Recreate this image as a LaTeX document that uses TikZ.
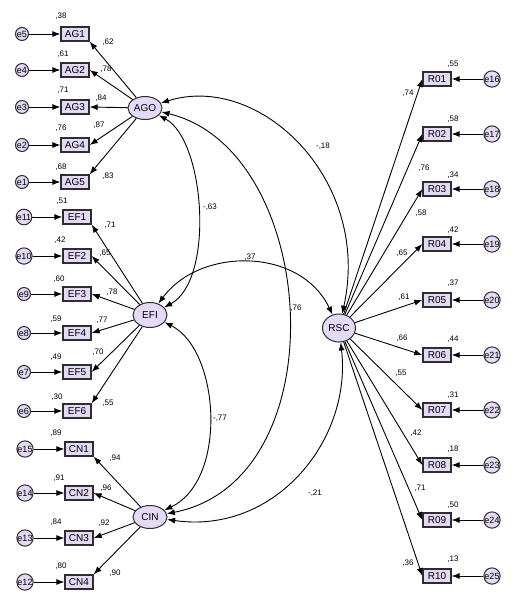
\documentclass[tikz,border=0pt]{standalone}
\usepackage{fontspec}
\setmainfont{Liberation Sans}
\usetikzlibrary{shapes.geometric,arrows.meta}
\definecolor{lav}{RGB}{228,218,245}
\definecolor{edgec}{RGB}{45,45,50}
\begin{document}
\begin{tikzpicture}[x=1pt,y=-1pt,
 obs/.style={rectangle,draw=edgec,line width=1.3pt,fill=lav,minimum width=28pt,minimum height=14pt,inner sep=0pt,font=\fontsize{10}{10}\selectfont},
 lat/.style={ellipse,draw=edgec,line width=1pt,fill=lav,minimum width=34pt,minimum height=25pt,inner sep=0pt,font=\fontsize{10}{10}\selectfont},
 err/.style={circle,draw=edgec,line width=1pt,fill=lav,minimum size=13pt,inner sep=0pt,font=\fontsize{9}{9}\selectfont},
 num/.style={inner sep=0pt,font=\fontsize{8}{8}\selectfont},
 arr/.style={draw=black,line width=0.9pt,-{Latex[length=8pt,width=6pt]}},
 cov/.style={draw=black,line width=0.9pt,{Latex[length=8pt,width=6pt]}-{Latex[length=8pt,width=6pt]}}]
\useasboundingbox (0,0) rectangle (512,606);

% latent variables
\node[lat,minimum height=23pt] (AGO) at (145,108) {AGO};
\node[lat] (EFI) at (150,315) {EFI};
\node[lat,minimum height=23pt] (CIN) at (150,517) {CIN};
\node[lat,minimum width=33pt,minimum height=28pt] (RSC) at (339,328) {RSC};

% AG block
\node[obs] (AG1) at (75,34) {AG1};
\node[obs] (AG2) at (75,70) {AG2};
\node[obs] (AG3) at (75,107) {AG3};
\node[obs] (AG4) at (75,145) {AG4};
\node[obs] (AG5) at (75,182) {AG5};
\node[err] (e5) at (22,34) {e5};
\node[err] (e4) at (22,70) {e4};
\node[err] (e3) at (22,107) {e3};
\node[err] (e2) at (22,145) {e2};
\node[err] (e1) at (22,182) {e1};
\draw[arr] (e5) -- (AG1);
\draw[arr] (e4) -- (AG2);
\draw[arr] (e3) -- (AG3);
\draw[arr] (e2) -- (AG4);
\draw[arr] (e1) -- (AG5);
\draw[arr] (AGO) -- (AG1.south east);
\draw[arr] (AGO) -- (AG2.east);
\draw[arr] (AGO) -- (AG3.east);
\draw[arr] (AGO) -- (AG4.east);
\draw[arr] (AGO) -- (AG5.north east);
\node[num] (rAG1) at (61,16) {,38};
\node[num] (rAG2) at (63,54) {,61};
\node[num] (rAG3) at (63,90) {,71};
\node[num] (rAG4) at (61,128) {,76};
\node[num] (rAG5) at (61,167) {,68};
\node[num] (lAG1) at (108,42) {,62};
\node[num] (lAG2) at (106,69) {,78};
\node[num] (lAG3) at (101,98) {,84};
\node[num] (lAG4) at (99,125) {,87};
\node[num] (lAG5) at (108,176) {,83};

% EF block
\node[obs] (EF1) at (77,217) {EF1};
\node[obs] (EF2) at (77,256) {EF2};
\node[obs] (EF3) at (77,294) {EF3};
\node[obs] (EF4) at (77,333) {EF4};
\node[obs] (EF5) at (77,372) {EF5};
\node[obs] (EF6) at (77,411) {EF6};
\node[err] (e11) at (24,217) {e11};
\node[err] (e10) at (24,256) {e10};
\node[err] (e9) at (24,294) {e9};
\node[err] (e8) at (24,333) {e8};
\node[err] (e7) at (24,372) {e7};
\node[err] (e6) at (24,411) {e6};
\draw[arr] (e11) -- (EF1);
\draw[arr] (e10) -- (EF2);
\draw[arr] (e9) -- (EF3);
\draw[arr] (e8) -- (EF4);
\draw[arr] (e7) -- (EF5);
\draw[arr] (e6) -- (EF6);
\draw[arr] (EFI) -- (EF1.south east);
\draw[arr] (EFI) -- (EF2.east);
\draw[arr] (EFI) -- (EF3.east);
\draw[arr] (EFI) -- (EF4.east);
\draw[arr] (EFI) -- (EF5.east);
\draw[arr] (EFI) -- (EF6.north east);
\node[num] (rEF1) at (62,201) {,51};
\node[num] (rEF2) at (60,240) {,42};
\node[num] (rEF3) at (59,279) {,60};
\node[num] (rEF4) at (56,319) {,59};
\node[num] (rEF5) at (56,357) {,49};
\node[num] (rEF6) at (57,397) {,30};
\node[num] (lEF1) at (110,225) {,71};
\node[num] (lEF2) at (105,253) {,65};
\node[num] (lEF3) at (112,292) {,78};
\node[num] (lEF4) at (102,320) {,77};
\node[num] (lEF5) at (98,352) {,70};
\node[num] (lEF6) at (108,403) {,55};

% CN block
\node[obs] (CN1) at (79,449) {CN1};
\node[obs] (CN2) at (79,493) {CN2};
\node[obs] (CN3) at (79,538) {CN3};
\node[obs] (CN4) at (79,582) {CN4};
\node[err] (e15) at (25,449) {e15};
\node[err] (e14) at (25,493) {e14};
\node[err] (e13) at (25,538) {e13};
\node[err] (e12) at (25,582) {e12};
\draw[arr] (e15) -- (CN1);
\draw[arr] (e14) -- (CN2);
\draw[arr] (e13) -- (CN3);
\draw[arr] (e12) -- (CN4);
\draw[arr] (CIN) -- (CN1.south east);
\draw[arr] (CIN) -- (CN2.east);
\draw[arr] (CIN) -- (CN3.east);
\draw[arr] (CIN) -- (CN4.north east);
\node[num] (rCN1) at (56,433) {,89};
\node[num] (rCN2) at (59,478) {,91};
\node[num] (rCN3) at (56,522) {,84};
\node[num] (rCN4) at (61,566) {,80};
\node[num] (lCN1) at (115,458) {,94};
\node[num] (lCN2) at (106,488) {,96};
\node[num] (lCN3) at (104,523) {,92};
\node[num] (lCN4) at (115,573) {,90};

% R block
\node[obs] (R01) at (437,79) {R01};
\node[obs] (R02) at (437,134) {R02};
\node[obs] (R03) at (437,189) {R03};
\node[obs] (R04) at (437,244) {R04};
\node[obs] (R05) at (437,300) {R05};
\node[obs] (R06) at (437,355) {R06};
\node[obs] (R07) at (437,410) {R07};
\node[obs] (R08) at (437,465) {R08};
\node[obs] (R09) at (437,520) {R09};
\node[obs] (R10) at (437,576) {R10};
\node[err] (e16) at (492,79) {e16};
\node[err] (e17) at (492,134) {e17};
\node[err] (e18) at (492,189) {e18};
\node[err] (e19) at (492,244) {e19};
\node[err] (e20) at (492,300) {e20};
\node[err] (e21) at (492,355) {e21};
\node[err] (e22) at (492,410) {e22};
\node[err] (e23) at (492,465) {e23};
\node[err] (e24) at (492,520) {e24};
\node[err] (e25) at (492,576) {e25};
\draw[arr] (e16) -- (R01);
\draw[arr] (e17) -- (R02);
\draw[arr] (e18) -- (R03);
\draw[arr] (e19) -- (R04);
\draw[arr] (e20) -- (R05);
\draw[arr] (e21) -- (R06);
\draw[arr] (e22) -- (R07);
\draw[arr] (e23) -- (R08);
\draw[arr] (e24) -- (R09);
\draw[arr] (e25) -- (R10);
\draw[arr] (RSC) -- (R01.west);
\draw[arr] (RSC) -- (R02.west);
\draw[arr] (RSC) -- (R03.west);
\draw[arr] (RSC) -- (R04.west);
\draw[arr] (RSC) -- (R05.west);
\draw[arr] (RSC) -- (R06.west);
\draw[arr] (RSC) -- (R07.west);
\draw[arr] (RSC) -- (R08.west);
\draw[arr] (RSC) -- (R09.west);
\draw[arr] (RSC) -- (R10.west);
\node[num] (rR01) at (453,64) {,55};
\node[num] (rR02) at (453,119) {,58};
\node[num] (rR03) at (453,175) {,34};
\node[num] (rR04) at (453,230) {,42};
\node[num] (rR05) at (453,283) {,37};
\node[num] (rR06) at (453,339) {,44};
\node[num] (rR07) at (453,395) {,31};
\node[num] (rR08) at (453,449) {,18};
\node[num] (rR09) at (453,505) {,50};
\node[num] (rR10) at (453,559) {,13};
\node[num] (lR01) at (408,93) {,74};
\node[num] (lR02) at (424,168) {,76};
\node[num] (lR03) at (421,213) {,58};
\node[num] (lR04) at (402,253) {,65};
\node[num] (lR05) at (404,297) {,61};
\node[num] (lR06) at (402,338) {,66};
\node[num] (lR07) at (401,373) {,55};
\node[num] (lR08) at (416,433) {,42};
\node[num] (lR09) at (420,488) {,71};
\node[num] (lR10) at (408,563) {,36};

% covariances
\draw[cov] (AGO) .. controls (260,72) and (372,180) .. (RSC);
\draw[cov] (AGO) .. controls (205,140) and (215,280) .. (EFI);
\draw[cov] (AGO) .. controls (320,150) and (340,480) .. (CIN);
\draw[cov] (EFI) .. controls (200,247) and (300,247) .. (RSC);
\draw[cov] (EFI) .. controls (220,350) and (228,480) .. (CIN);
\draw[cov] (RSC) .. controls (352,440) and (275,535) .. (CIN);
\node[num] (cAR) at (323,146) {-,18};
\node[num] (cAE) at (210,207) {-,63};
\node[num] (cER) at (250,257) {,37};
\node[num] (cAC) at (296,308) {,76};
\node[num] (cEC) at (220,418) {-,77};
\node[num] (cRC) at (315,493) {-,21};
\end{tikzpicture}
\end{document}
